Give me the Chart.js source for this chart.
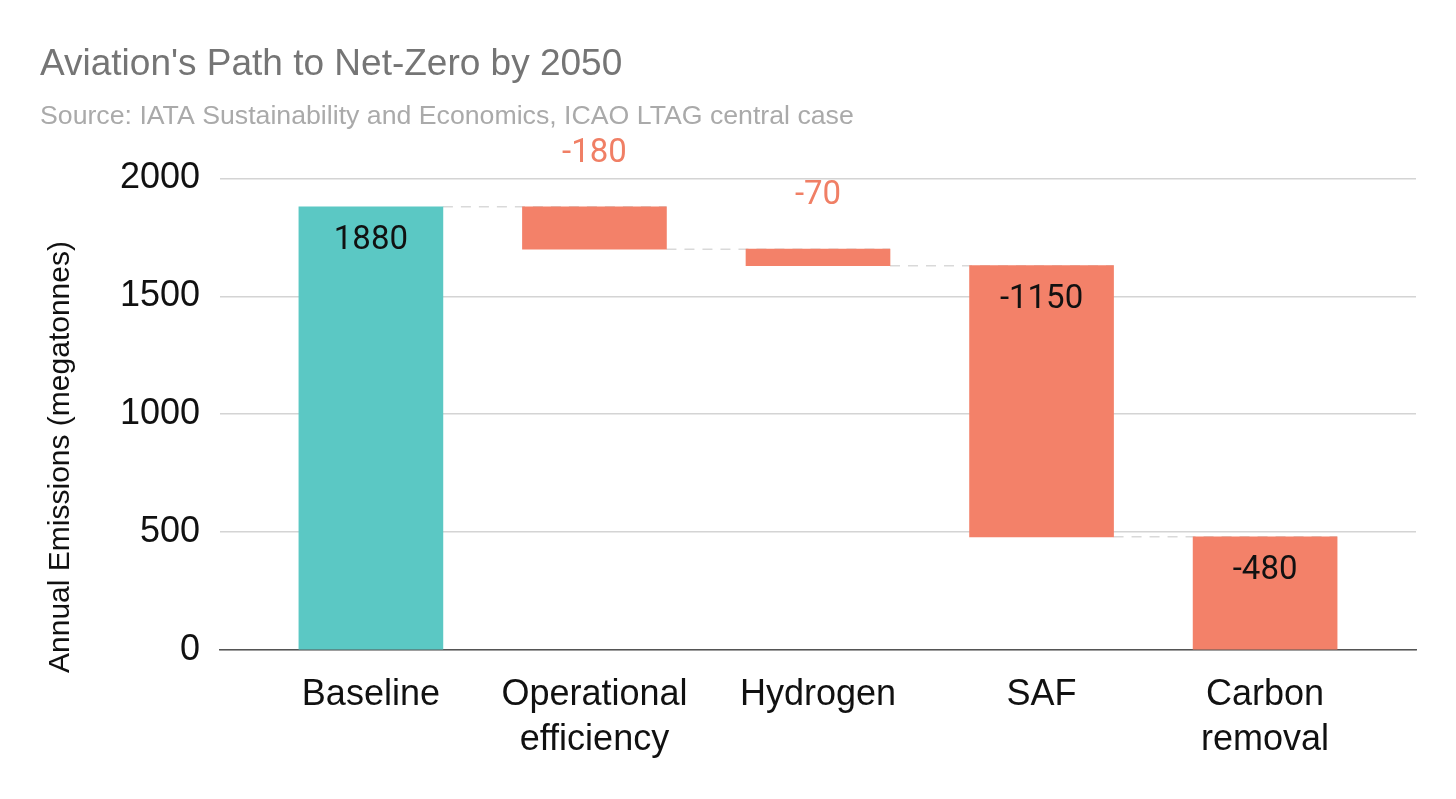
<!DOCTYPE html>
<html>
<head>
<meta charset="utf-8">
<script src="https://cdn.jsdelivr.net/npm/chart.js@4/dist/chart.umd.min.js"></script>
<style>
  html, body { margin: 0; padding: 0; background: #fff; }
  #wrap { width: 1456px; height: 799px; }
</style>
</head>
<body>
<div id="wrap"><canvas id="waterfall"></canvas></div>
<script>
const categories = ['Baseline', ['Operational', 'efficiency'], 'Hydrogen', 'SAF', ['Carbon', 'removal']];
const changes = [1880, -180, -70, -1150, -480];
const yTicks = [0, 500, 1000, 1500, 2000];

const teal = '#5BC8C4';
const salmon = '#F38169';
const sans = '"Liberation Sans", Arial, sans-serif';

// running totals -> floating [low, high] bars
let running = 0;
const ranges = [];
const levels = [];
changes.forEach(function (v, i) {
    if (i === 0) {
        ranges.push([0, v]);
        running = v;
    } else {
        const next = running + v;
        ranges.push([Math.min(running, next), Math.max(running, next)]);
        running = next;
    }
    levels.push(running);
});
const points = ranges.map((r, i) => ({ x: i, y: r }));
const colors = changes.map((v, i) => (i === 0 ? teal : salmon));

const connectors = {
    id: 'connectors',
    beforeDatasetsDraw(chart) {
        const ctx = chart.ctx;
        const bars = chart.getDatasetMeta(0).data;
        const yScale = chart.scales.y;
        ctx.save();
        ctx.strokeStyle = '#d9d9d9';
        ctx.lineWidth = 1.5;
        ctx.setLineDash([10, 8]);
        for (let i = 0; i < bars.length - 1; i++) {
            const y = yScale.getPixelForValue(levels[i]);
            const a = bars[i].getProps(['x', 'width'], true);
            const b = bars[i + 1].getProps(['x', 'width'], true);
            ctx.beginPath();
            ctx.moveTo(a.x + a.width / 2, y);
            ctx.lineTo(b.x + b.width / 2, y);
            ctx.stroke();
        }
        ctx.restore();
    }
};

const valueLabels = {
    id: 'valueLabels',
    afterDatasetsDraw(chart) {
        const ctx = chart.ctx;
        const bars = chart.getDatasetMeta(0).data;
        ctx.save();
        ctx.font = '33px Roboto';
        ctx.textAlign = 'center';
        ctx.textBaseline = 'middle';
        bars.forEach(function (bar, i) {
            const p = bar.getProps(['x', 'y', 'base'], true);
            const top = Math.min(p.y, p.base);
            const h = Math.abs(p.base - p.y);
            if (h < 60) {
                ctx.fillStyle = '#F07F65';
                ctx.fillText(String(changes[i]), p.x, top - 53);
            } else {
                ctx.fillStyle = '#111';
                ctx.fillText(String(changes[i]), p.x, top + 34);
            }
        });
        ctx.restore();
    }
};

// y axis title sits a little below the plot's middle in the reference
const axisTitle = {
    id: 'axisTitle',
    afterDraw(chart) {
        const ctx = chart.ctx;
        ctx.save();
        ctx.translate(61, 457);
        ctx.rotate(-Math.PI / 2);
        ctx.font = '30px ' + sans;
        ctx.fillStyle = '#111';
        ctx.textAlign = 'center';
        ctx.textBaseline = 'middle';
        ctx.fillText('Annual Emissions (megatonnes)', 0, 0);
        ctx.restore();
    }
};

new Chart(document.getElementById('waterfall'), {
    type: 'bar',
    data: {
        datasets: [{
            data: points,
            backgroundColor: colors,
            borderWidth: 0,
            barThickness: 144
        }]
    },
    options: {
        responsive: true,
        maintainAspectRatio: false,
        animation: false,
        layout: { padding: { left: 40, right: 40, top: 0, bottom: 0 } },
        plugins: {
            legend: { display: false },
            tooltip: { enabled: false },
            title: {
                display: true,
                align: 'start',
                text: "Aviation's Path to Net-Zero by 2050",
                color: '#757575',
                font: { family: sans, size: 37, weight: 'normal' },
                padding: { top: 43, bottom: 0 }
            },
            subtitle: {
                display: true,
                align: 'start',
                text: 'Source: IATA Sustainability and Economics, ICAO LTAG central case',
                color: '#aaaaaa',
                font: { family: sans, size: 26.7 },
                padding: { top: 13, bottom: 46 }
            }
        },
        scales: {
            x: {
                type: 'linear',
                offset: false,
                min: -0.675,
                max: 4.675,
                grid: { display: false },
                border: { display: true, color: '#555', width: 1.5 },
                afterBuildTicks: function (scale) {
                    scale.ticks = categories.map((c, i) => ({ value: i }));
                },
                afterFit: function (scale) { scale.height = 149; },
                ticks: {
                    color: '#111',
                    padding: 15,
                    maxRotation: 0,
                    autoSkip: false,
                    font: { family: sans, size: 36, lineHeight: 1.25 },
                    callback: function (value) { return categories[value]; }
                }
            },
            y: {
                min: 0,
                max: 2000,
                afterBuildTicks: function (scale) {
                    scale.ticks = yTicks.map(v => ({ value: v }));
                },
                afterFit: function (scale) { scale.width = 180; },
                grid: { color: '#d4d4d4', lineWidth: 1.5, drawTicks: false },
                border: { display: false },
                ticks: {
                    color: '#111',
                    padding: 20,
                    font: { family: sans, size: 36 },
                    callback: function (value) { return String(value); }
                }
            }
        }
    },
    plugins: [connectors, valueLabels, axisTitle]
});
</script>
</body>
</html>
